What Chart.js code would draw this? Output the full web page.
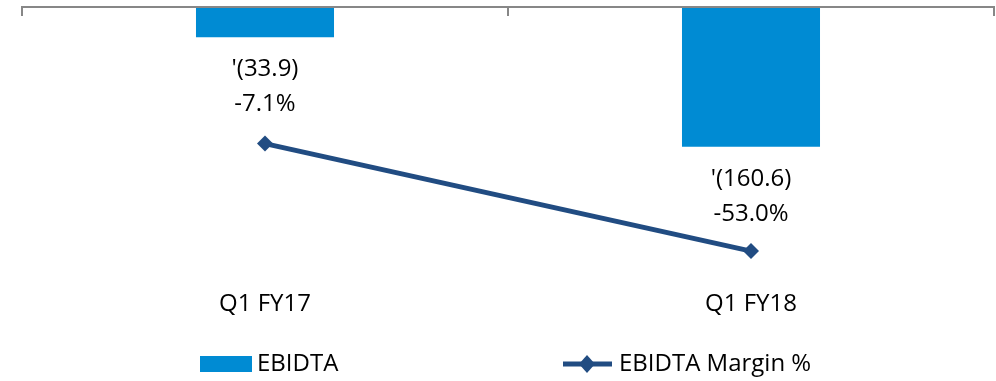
<!DOCTYPE html>
<html>
<head>
<meta charset="utf-8">
<script src="https://cdn.jsdelivr.net/npm/chart.js@4"></script>
<style>
  html, body { margin: 0; padding: 0; background: #fff; }
  #wrap { width: 996px; height: 381px; }
</style>
</head>
<body>
<div id="wrap"><canvas id="myChart" width="996" height="381"></canvas></div>
<script>
// данные графика
const categories = ['Q1 FY17', 'Q1 FY18']
const ebidta = [-33.9, -160.6]
const ebidtaLabels = ["'(33.9)", "'(160.6)"]
const margin = [-7.1, -53.0]
const marginLabels = ['-7.1%', '-53.0%']

const barColor = '#008bd3'
const lineColor = '#214c82'
const fontFamily = "'Open Sans', 'Liberation Sans', sans-serif"

// верхняя ось с засечками, подписи к столбцам и легенда
const decorPlugin = {
    id: 'decor',
    afterDatasetsDraw(chart) {
        const ctx = chart.ctx
        const area = chart.chartArea
        const barSet = chart.data.datasets.find(d => d.type === 'bar')
        const lineSet = chart.data.datasets.find(d => d.type === 'line')
        const barIndex = chart.data.datasets.indexOf(barSet)

        // линия оси сверху
        ctx.save()
        ctx.strokeStyle = '#878787'
        ctx.lineWidth = 2
        ctx.beginPath()
        ctx.moveTo(area.left, area.top - 1)
        ctx.lineTo(area.right, area.top - 1)
        const n = categories.length
        for (let i = 0; i <= n; i++) {
            const px = area.left + (area.right - area.left) * i / n
            ctx.moveTo(px, area.top - 2)
            ctx.lineTo(px, area.top + 8)
        }
        ctx.stroke()

        // подписи значений
        ctx.fillStyle = '#000'
        ctx.font = '24px ' + fontFamily
        ctx.textAlign = 'center'
        ctx.textBaseline = 'middle'
        const bars = chart.getDatasetMeta(barIndex).data
        bars.forEach((bar, i) => {
            ctx.fillText(ebidtaLabels[i], bar.x, bar.y + 32)
            ctx.fillText(marginLabels[i], bar.x, bar.y + 67)
        })

        // легенда
        const ly = 364
        ctx.fillStyle = barColor
        ctx.fillRect(200, ly - 8, 52, 16)
        ctx.fillStyle = '#000'
        ctx.textAlign = 'left'
        ctx.fillText(barSet.label, 257, ly)

        ctx.strokeStyle = lineColor
        ctx.lineWidth = 5
        ctx.beginPath()
        ctx.moveTo(563, ly)
        ctx.lineTo(612, ly)
        ctx.stroke()
        ctx.fillStyle = lineColor
        ctx.beginPath()
        ctx.moveTo(587, ly - 9)
        ctx.lineTo(595, ly)
        ctx.lineTo(587, ly + 9)
        ctx.lineTo(579, ly)
        ctx.closePath()
        ctx.fill()
        ctx.fillStyle = '#000'
        ctx.fillText(lineSet.label, 619, ly)
        ctx.restore()
    }
}

const canvas = document.getElementById('myChart')
const ctx = canvas.getContext('2d')

const myChart = new Chart(ctx, {
    data: {
        labels: categories,
        datasets: [
            {
                type: 'line',
                label: 'EBIDTA Margin %',
                data: margin,
                yAxisID: 'y2',
                borderColor: lineColor,
                backgroundColor: lineColor,
                borderWidth: 5,
                pointStyle: 'rectRot',
                pointRadius: 8,
                pointBorderWidth: 0,
                tension: 0,
                order: 0
            },
            {
                type: 'bar',
                label: 'EBIDTA',
                data: ebidta,
                yAxisID: 'y',
                backgroundColor: barColor,
                borderWidth: 0,
                categoryPercentage: 1,
                barPercentage: 0.284,
                order: 1
            }
        ]
    },
    options: {
        responsive: false,
        animation: false,
        layout: { autoPadding: false, padding: { left: 22, right: 2, top: 8, bottom: 44 } },
        plugins: {
            legend: { display: false },
            tooltip: { enabled: false }
        },
        scales: {
            x: {
                offset: true,
                grid: { display: false, drawTicks: false },
                border: { display: false },
                ticks: {
                    color: '#000',
                    padding: 18,
                    font: { size: 24, family: fontFamily }
                }
            },
            y: {
                display: false,
                min: -306,
                max: 0
            },
            y2: {
                display: false,
                min: -62,
                max: 50.8
            }
        }
    },
    plugins: [decorPlugin]
})
</script>
</body>
</html>
